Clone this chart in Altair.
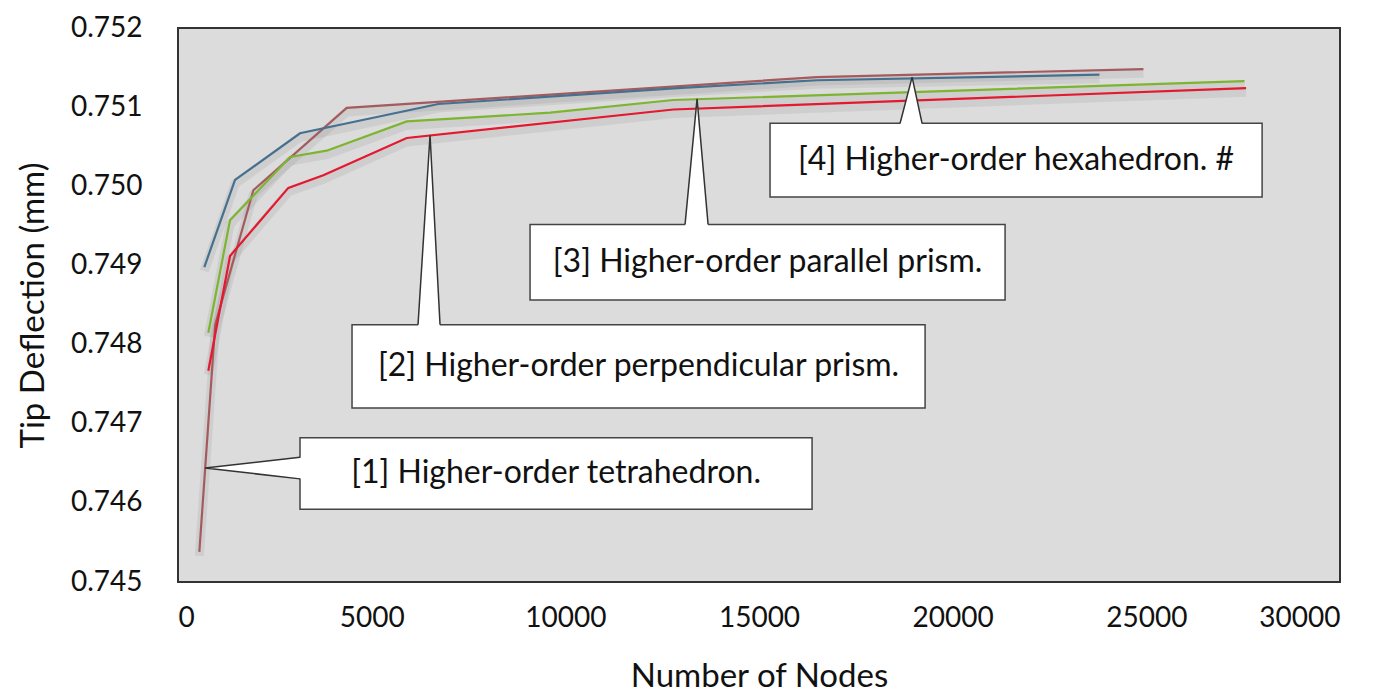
import altair as alt
import pandas as pd

# ---- data ----
tet_x = [551, 960, 1945, 4356, 16500, 24925]
tet_y = [0.74538, 0.74825, 0.74995, 0.75099, 0.75138, 0.75148]

perp_x = [783, 1343, 2849, 3752, 5905, 12789, 27576]
perp_y = [0.74767, 0.74912, 0.74998, 0.75014, 0.75061, 0.75097, 0.75124]

para_x = [783, 1343, 2892, 3839, 5905, 9605, 12789, 27534]
para_y = [0.74815, 0.74957, 0.75037, 0.75045, 0.75082, 0.75093, 0.75109, 0.75133]

hex_x = [680, 1472, 3150, 6722, 12900, 16500, 23790]
hex_y = [0.74898, 0.75008, 0.75067, 0.75104, 0.75124, 0.75134, 0.75141]

series_names = ["tet", "perp", "para", "hex"]
series_colors = ["#A55A5E", "#E4182E", "#7DB530", "#45708F"]

# callout annotations (data coordinates)
labels = ["[1] Higher-order tetrahedron.",
          "[2] Higher-order perpendicular prism.",
          "[3] Higher-order parallel prism.",
          "[4] Higher-order hexahedron. #"]
box_x1 = [3150, 4493, 9089, 15285]
box_x2 = [16370, 19288, 21353, 27989]
box_y1 = [0.745918, 0.747197, 0.748562, 0.749865]
box_y2 = [0.746824, 0.748252, 0.749518, 0.750796]
apex_x = [697, 6507, 13401, 18953]
apex_y = [0.74644, 0.750644, 0.751104, 0.75138]
base_a = [0.746303, 6197, 13091, 18642]   # [1]: y low of base; others: x left of base
base_b = [0.746576, 6765, 13685, 19210]   # [1]: y high of base; others: x right of base

rows = []
for name, xs, ys in [("tet", tet_x, tet_y), ("perp", perp_x, perp_y),
                     ("para", para_x, para_y), ("hex", hex_x, hex_y)]:
    for i, (xv, yv) in enumerate(zip(xs, ys)):
        rows.append({"series": name, "x": xv, "y": yv, "i": i})
df = pd.DataFrame(rows)

boxes = pd.DataFrame({"label": labels, "x1": box_x1, "x2": box_x2,
                      "y1": box_y1, "y2": box_y2})
boxes["xc"] = (boxes["x1"] + boxes["x2"]) / 2
boxes["yc"] = (boxes["y1"] + boxes["y2"]) / 2

# wedge for [1] (horizontal pointer, pointing left)
eps_x = 120
w1 = pd.DataFrame({
    "x": [apex_x[0], box_x1[0] + eps_x],
    "ylo": [apex_y[0], base_a[0]],
    "yhi": [apex_y[0], base_b[0]],
})
w1_line = pd.DataFrame({
    "x": [box_x1[0], apex_x[0], box_x1[0]],
    "y": [base_a[0], apex_y[0], base_b[0]],
    "o": [0, 1, 2],
})

# wedges for [2]-[4] (vertical pointers, pointing up)
eps_y = 0.00002
wr, wl = [], []
for k in range(1, 4):
    wr.append({"k": k, "y": apex_y[k], "xl": apex_x[k], "xr": apex_x[k]})
    wr.append({"k": k, "y": box_y2[k] - eps_y, "xl": base_a[k], "xr": base_b[k]})
    wl.append({"k": k, "x": base_a[k], "y": box_y2[k], "o": 0})
    wl.append({"k": k, "x": apex_x[k], "y": apex_y[k], "o": 1})
    wl.append({"k": k, "x": base_b[k], "y": box_y2[k], "o": 2})
w234 = pd.DataFrame(wr)
w234_line = pd.DataFrame(wl)

FONT = "Lato"
xscale = alt.Scale(domain=[0, 30000], nice=False)
yscale = alt.Scale(domain=[0.745, 0.752], nice=False, zero=False)

X = alt.X("x:Q", scale=xscale,
          axis=alt.Axis(title="Number of Nodes", values=[0, 5000, 10000, 15000, 20000, 25000, 30000],
                        format="d", ticks=False, domain=False, grid=False,
                        labelFont=FONT, labelFontSize=28, labelColor="#111",
                        labelPadding=22, titleFont=FONT, titleFontSize=33,
                        titleFontWeight="normal", titleColor="#111", titlePadding=28))
Y = alt.Y("y:Q", scale=yscale,
          axis=alt.Axis(title="Tip Deflection (mm)",
                        values=[0.745, 0.746, 0.747, 0.748, 0.749, 0.750, 0.751, 0.752],
                        format=".3f", ticks=False, domain=False, grid=False,
                        labelFont=FONT, labelFontSize=28, labelColor="#111",
                        labelPadding=36, titleFont=FONT, titleFontSize=33,
                        titleFontWeight="normal", titleColor="#111", titlePadding=20))

color = alt.Color("series:N", scale=alt.Scale(domain=series_names, range=series_colors), legend=None)

shadow = alt.Chart(df).mark_line(strokeWidth=9, opacity=0.10, color="#555", yOffset=4).encode(
    x=alt.X("x:Q", scale=xscale), y=alt.Y("y:Q", scale=yscale),
    detail="series:N", order="i:Q")

lines = alt.Chart(df).mark_line(strokeWidth=2.2).encode(
    x=X, y=Y, color=color, order="i:Q")

box_layer = alt.Chart(boxes).mark_rect(fill="white", stroke="#444", strokeWidth=1.5).encode(
    x=alt.X("x1:Q", scale=xscale), x2="x2:Q",
    y=alt.Y("y1:Q", scale=yscale), y2="y2:Q")

wedge1 = alt.Chart(w1).mark_area(color="white", opacity=1).encode(
    x=alt.X("x:Q", scale=xscale), y=alt.Y("ylo:Q", scale=yscale), y2="yhi:Q")
wedge1_line = alt.Chart(w1_line).mark_line(color="#333", strokeWidth=1.5).encode(
    x=alt.X("x:Q", scale=xscale), y=alt.Y("y:Q", scale=yscale), order="o:Q")

wedges = alt.Chart(w234).mark_area(color="white", opacity=1, orient="horizontal").encode(
    y=alt.Y("y:Q", scale=yscale), x=alt.X("xl:Q", scale=xscale), x2="xr:Q", detail="k:N")
wedges_line = alt.Chart(w234_line).mark_line(color="#333", strokeWidth=1.5).encode(
    x=alt.X("x:Q", scale=xscale), y=alt.Y("y:Q", scale=yscale), detail="k:N", order="o:Q")

texts = alt.Chart(boxes).mark_text(font=FONT, fontSize=32, color="#111",
                                   align="center", baseline="middle").encode(
    x=alt.X("xc:Q", scale=xscale), y=alt.Y("yc:Q", scale=yscale), text="label:N")

chart = alt.layer(shadow, lines, box_layer, wedge1, wedge1_line, wedges, wedges_line, texts).properties(
    width=1162, height=554,
    autosize=alt.AutoSizeParams(type="none"),
    padding={"left": 170, "top": 20, "right": 40, "bottom": 110},
    background="white",
).configure_view(
    fill="#DCDCDC", stroke="#333", strokeWidth=2
)

chart.save("out.html", embed_options={"renderer": "svg", "actions": False})
